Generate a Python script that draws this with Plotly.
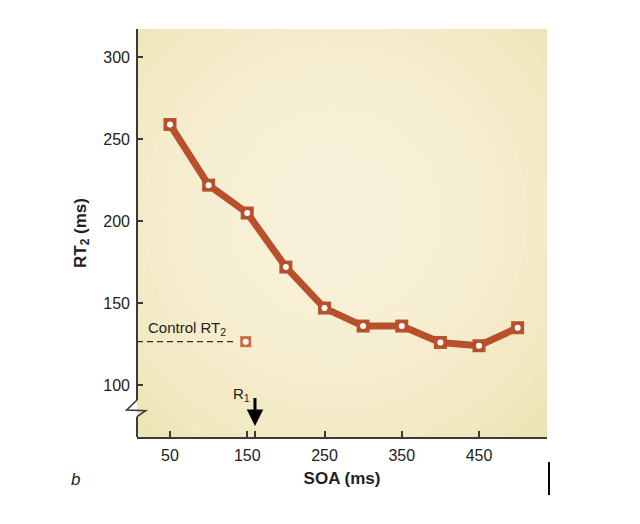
import plotly.graph_objects as go

# ---- data ----
soa = [50, 100, 150, 200, 250, 300, 350, 400, 450, 500]
rt2 = [259, 222, 205, 172, 147, 136, 136, 126, 124, 135]
control_soa = [148]
control_rt2 = [126.5]
r1_soa = 160
x_tickvals = [50, 150, 160, 250, 350, 450]
x_ticktext = ["50", "150", " ", "250", "350", "450"]
y_tickvals = [100, 150, 200, 250, 300]

W, H = 640, 524
OFF = 8  # page body offset
L, R, T, B = 137, 547, 29, 437  # plot area in screenshot pixels
XR = [7.3, 538]
YR = [68.3, 317.3]

def px(p):
    return (p - L) / (R - L)

def py(p):
    return (B - p) / (B - T)

def dx(p):
    return XR[0] + px(p) * (XR[1] - XR[0])

def dy(p):
    return YR[0] + py(p) * (YR[1] - YR[0])

RUST = "#B8512B"
AX = "#3a3a3a"
FONT = "Liberation Sans, Arial, sans-serif"

fig = go.Figure()

# control dashed line
fig.add_trace(go.Scatter(x=[XR[0], control_soa[0] - 12], y=[control_rt2[0], control_rt2[0]],
                         mode="lines", line=dict(color="#333333", width=1.3, dash="6px,4px"),
                         hoverinfo="skip", showlegend=False))
# main line
fig.add_trace(go.Scatter(x=soa, y=rt2, mode="lines", line=dict(color=RUST, width=7),
                         showlegend=False))
fig.add_trace(go.Scatter(x=soa, y=rt2, mode="markers",
                         marker=dict(symbol="square", size=13, color=RUST,
                                     line=dict(width=0)), showlegend=False))
fig.add_trace(go.Scatter(x=soa, y=rt2, mode="markers",
                         marker=dict(symbol="circle", size=6, color="white",
                                     line=dict(width=0)), showlegend=False))
# control marker
fig.add_trace(go.Scatter(x=control_soa, y=control_rt2, mode="markers",
                         marker=dict(symbol="square", size=11, color="#D06A45",
                                     line=dict(width=0)), showlegend=False))
fig.add_trace(go.Scatter(x=control_soa, y=control_rt2, mode="markers",
                         marker=dict(symbol="circle", size=6, color="white",
                                     line=dict(width=0)), showlegend=False))

shapes = []
# radial-ish gradient background (clipped to plot area via data refs)
n = 14
for i in range(n):
    f = 1 - i / n
    cxp, cyp = 335, 215
    rxp, ryp = 300 * f, 300 * f
    shapes.append(dict(type="circle", xref="x", yref="y", layer="below",
                       x0=dx(cxp - rxp), x1=dx(cxp + rxp), y0=dy(cyp + ryp), y1=dy(cyp - ryp),
                       fillcolor="#FBF8E4", opacity=0.12, line=dict(width=0)))
# y axis line with break
shapes.append(dict(type="line", xref="paper", yref="paper", x0=0, x1=0,
                   y0=1, y1=py(400), line=dict(color=AX, width=2)))
shapes.append(dict(type="path", xref="paper", yref="paper",
                   path="M %f,%f L %f,%f L %f,%f L %f,%f" % (
                       px(137), py(400), px(126.7), py(410),
                       px(145.7), py(410.7), px(137), py(416.7)),
                   line=dict(color=AX, width=1.6)))
shapes.append(dict(type="line", xref="paper", yref="paper", x0=0, x1=0,
                   y0=py(416.7), y1=0, line=dict(color=AX, width=2)))
# stray vertical bar
shapes.append(dict(type="line", xref="paper", yref="paper", x0=px(549), x1=px(549),
                   y0=py(462), y1=py(495), line=dict(color="black", width=2)))

annotations = [
    dict(text="Control RT<sub>2</sub>", xref="paper", yref="paper", x=px(146), y=py(328),
         xanchor="left", yanchor="middle", showarrow=False,
         font=dict(family=FONT, size=15, color="#222")),
    dict(text="R<sub>1</sub>", xref="paper", yref="paper", x=px(241), y=py(394),
         xanchor="center", yanchor="middle", showarrow=False,
         font=dict(family=FONT, size=15, color="#222")),
    dict(text=" ", x=r1_soa, y=py(426), xref="x", yref="paper", ax=0, ay=-38,
         showarrow=True, arrowhead=2, arrowsize=1.1, arrowwidth=3, arrowcolor="black"),
    dict(text="<i>b</i>", xref="paper", yref="paper", x=px(75), y=py(479),
         xanchor="center", yanchor="middle", showarrow=False,
         font=dict(family=FONT, size=17, color="#222")),
]

fig.update_layout(
    width=W, height=H,
    margin=dict(l=L - OFF, r=W - (R - OFF), t=T - OFF, b=H - (B - OFF)),
    paper_bgcolor="white",
    plot_bgcolor="#EBE3AF",
    font=dict(family=FONT, size=16, color="#222"),
    shapes=shapes, annotations=annotations,
    xaxis=dict(range=XR, tickvals=x_tickvals, ticktext=x_ticktext, tickangle=0,
               ticks="inside", ticklen=6, tickwidth=1.5, tickcolor=AX,
               showline=True, linecolor=AX, linewidth=2, showgrid=False, zeroline=False,
               ticklabelstandoff=3,
               tickfont=dict(size=16, color="#222"),
               title=dict(text="<b>SOA (ms)</b>", font=dict(size=17), standoff=9)),
    yaxis=dict(range=YR, tickvals=y_tickvals,
               ticks="inside", ticklen=6, tickwidth=1.5, tickcolor=AX,
               showline=False, showgrid=False, zeroline=False,
               ticklabelstandoff=6,
               tickfont=dict(size=16, color="#222"),
               title=dict(text="<b>RT<sub>2</sub> (ms)</b>", font=dict(size=17), standoff=12)),
)

fig.write_html("out.html")
